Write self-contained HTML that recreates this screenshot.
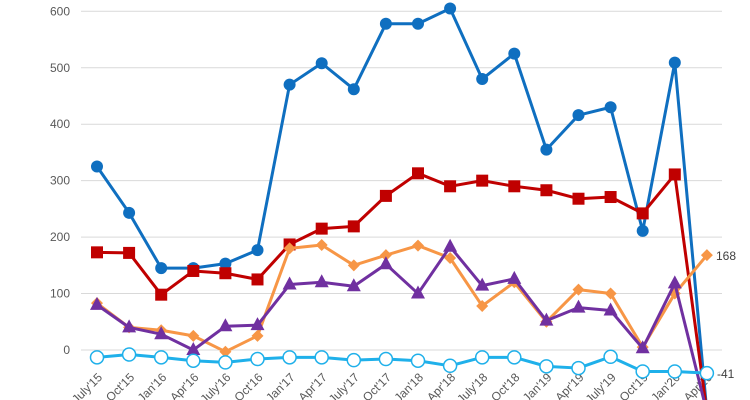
<!DOCTYPE html><html><head><style>body{margin:0;background:#fff}svg{display:block;font-family:"Liberation Sans",sans-serif}</style></head><body>
<svg id="s" width="750" height="400" xmlns="http://www.w3.org/2000/svg"></svg>
<script>
const s=document.getElementById('s');let h='';
const Y=v=>350-v*0.5645, X=i=>97+32.1*i;
for(let v=0;v<=600;v+=100){h+=`<line x1="81" x2="722" y1="${Y(v)}" y2="${Y(v)}" stroke="#d9d9d9" stroke-width="1"/><text x="70" y="${Y(v)+4}" font-size="12" fill="#595959" text-anchor="end">${v}</text>`;}
const labs=[];const m=["July","Oct","Jan","Apr"];let yr=15;for(let i=0;i<20;i++){const q=m[i%4];if(q=="Jan")yr++;labs.push(q+"'"+yr);}
labs.forEach((l,i)=>{h+=`<text transform="translate(${X(i)+6},${378}) rotate(-45)" font-size="12" fill="#595959" text-anchor="end">${l}</text>`});
const S=[
{c:"#0f6fc0",d:[325,243,145,145,153,177,470,508,462,578,578,605,480,525,355,416,430,211,509,-110],mk:"circ"},
{c:"#c00000",d:[173,172,98,140,136,125,187,215,219,273,313,290,300,290,283,268,271,242,311,-110],mk:"sq"},
{c:"#f79646",d:[83,40,35,25,-3,25,180,186,150,168,185,163,78,120,50,107,100,5,100,168],mk:"dia"},
{c:"#7030a0",d:[80,40,28,0,42,44,116,120,113,152,100,183,114,126,52,75,70,3,118,-110],mk:"tri"},
{c:"#1fb0ea",d:[-13,-8,-13,-19,-22,-16,-13,-13,-18,-16,-19,-28,-13,-13,-29,-32,-12,-38,-38,-41],mk:"oc"}];
S.forEach(o=>{h+=`<polyline fill="none" stroke="${o.c}" stroke-width="3" stroke-linejoin="round" points="${o.d.map((v,i)=>X(i)+','+Y(v)).join(' ')}"/>`;
o.d.forEach((v,i)=>{if(v<-60)return;const x=X(i),y=Y(v);
if(o.mk=="circ")h+=`<circle cx="${x}" cy="${y}" r="6" fill="${o.c}"/>`;
if(o.mk=="sq")h+=`<rect x="${x-6}" y="${y-6}" width="12" height="12" fill="${o.c}"/>`;
if(o.mk=="dia")h+=`<polygon points="${x},${y-6} ${x+6},${y} ${x},${y+6} ${x-6},${y}" fill="${o.c}"/>`;
if(o.mk=="tri")h+=`<polygon points="${x},${y-8} ${x+7},${y+5} ${x-7},${y+5}" fill="${o.c}"/>`;
if(o.mk=="oc")h+=`<circle cx="${x}" cy="${y}" r="6.5" fill="#fff" stroke="${o.c}" stroke-width="1.5"/>`;});});
h+=`<text x="716" y="260" font-size="12" fill="#404040">168</text><text x="717" y="378" font-size="12" fill="#404040">-41</text>`;
s.innerHTML=h;
</script></body></html>
